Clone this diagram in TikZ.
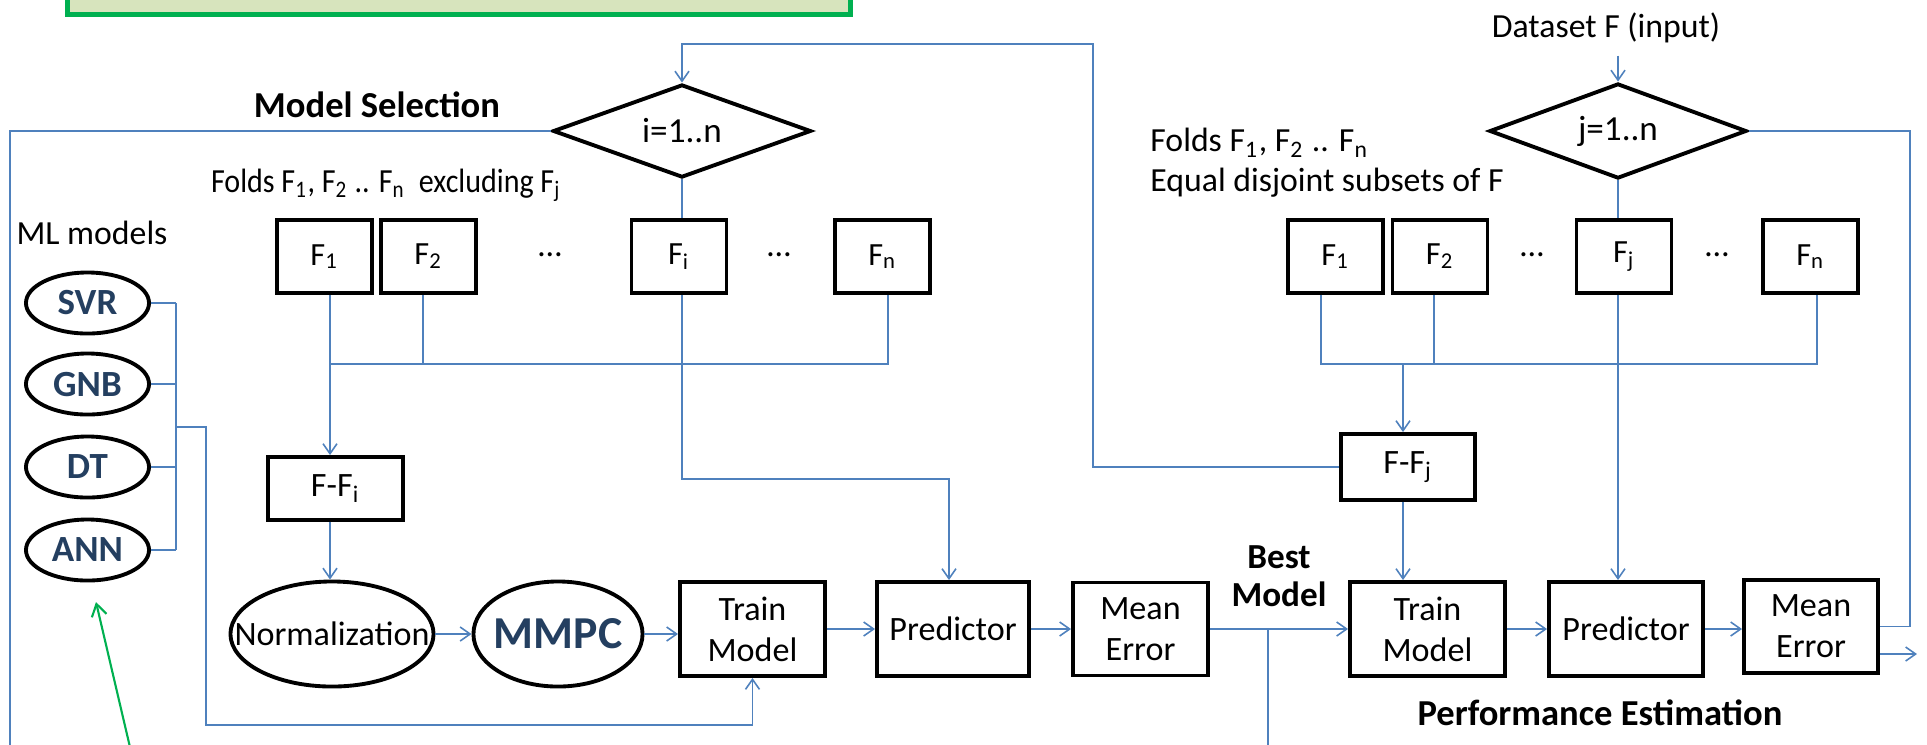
\documentclass[tikz,border=0pt]{standalone}
\usepackage{fontspec}
\usepackage{graphicx}
\setmainfont{Carlito}
\usetikzlibrary{shapes.geometric,arrows.meta,calc}
\definecolor{lblue}{HTML}{4F81BD}
\definecolor{dblue}{HTML}{243F60}
\definecolor{gborder}{HTML}{00B050}
\definecolor{gfill}{HTML}{D7E4BD}
\begin{document}
\begin{tikzpicture}[x=0.01cm,y=-0.01cm,
  box/.style={draw, line width=1.1pt, inner sep=0pt, align=center, font=\fontsize{9.7}{11.7}\selectfont},
  fbox/.style={box, minimum width=0.95cm, minimum height=0.73cm, font=\fontsize{9.2}{11}\selectfont},
  ell/.style={draw, ellipse, line width=1.1pt, inner sep=0pt},
  model/.style={ell, minimum width=1.23cm, minimum height=0.61cm, font=\fontsize{10.5}{12}\selectfont\bfseries, text=dblue},
  dia/.style={draw, diamond, line width=1.1pt, inner sep=0pt, aspect=2.77, font=\fontsize{10}{12}\selectfont},
  conn/.style={draw=lblue, line width=0.45pt},
  arr/.style={conn, -{Straight Barb[length=0.1cm,width=0.14cm]}},
  lbl/.style={font=\fontsize{10.4}{11}\selectfont\bfseries},
  txt/.style={font=\fontsize{9.6}{11.4}\selectfont},
]
\useasboundingbox (0,0) rectangle (1927,744);
\clip (0,0) rectangle (1927,744);

% title box (cut off at top)
\node[draw=gborder, fill=gfill, line width=1.4pt, minimum width=7.83cm, minimum height=0.6cm, inner sep=0pt] (title) at (459,-15.5) {};

% labels
\node[lbl] (ms) at (377,105) {Model Selection};
\node[lbl] (pe) at (1600,713) {Performance Estimation};
\node[lbl, align=center, font=\fontsize{10}{10.8}\selectfont\bfseries] (best) at (1279,576) {Best\\Model};
\node[txt] (ds) at (1606,28) {Dataset F (input)};
\node[txt] (lfolds) at (386,185) {\scalebox{0.89}[1]{Folds F\textsubscript{1}, F\textsubscript{2} .. F\textsubscript{n}~ excluding F\textsubscript{j}}};
\node[txt, align=left, anchor=west] (rfolds) at (1138,163) {Folds F\textsubscript{1}, F\textsubscript{2} .. F\textsubscript{n}\\Equal disjoint subsets of F};
\node[txt] (mlm) at (92,233) {ML models};

% diamonds
\node[dia, minimum width=2.58cm, minimum height=0.93cm] (di) at (682,131) {i=1..n};
\node[dia, minimum width=2.57cm, minimum height=0.95cm] (dj) at (1618,131) {j=1..n};

% left folds
\node[fbox] (lF1) at (324.5,256.5) {F\textsubscript{1}};
\node[fbox] (lF2) at (428.5,256.5) {F\textsubscript{2}};
\node[txt] (ld1) at (550,255) {…};
\node[fbox] (lFi) at (679,256.5) {F\textsubscript{i}};
\node[txt] (ld2) at (779,255) {…};
\node[fbox] (lFn) at (882.5,256.5) {F\textsubscript{n}};

% right folds
\node[fbox] (rF1) at (1335.5,256.5) {F\textsubscript{1}};
\node[fbox] (rF2) at (1440,256.5) {F\textsubscript{2}};
\node[txt] (rd1) at (1532,255) {…};
\node[fbox] (rFj) at (1624,256.5) {F\textsubscript{j}};
\node[txt] (rd2) at (1717,255) {…};
\node[fbox] (rFn) at (1810.5,256.5) {F\textsubscript{n}};

% F-F boxes
\node[box, minimum width=1.35cm, minimum height=0.63cm] (lFFi) at (335.5,488.5) {F-F\textsubscript{i}};
\node[box, minimum width=1.34cm, minimum height=0.66cm] (rFFj) at (1408,467) {F-F\textsubscript{j}};

% ML models
\node[model] (svr) at (87.5,303) {SVR};
\node[model] (gnb) at (87.5,384) {GNB};
\node[model] (dt) at (87.5,467) {DT};
\node[model] (ann) at (87.5,550) {ANN};

% bottom row
\node[ell, minimum width=2.03cm, minimum height=1.05cm, font=\fontsize{9.7}{11.7}\selectfont] (norm) at (332,634) {\makebox[0pt]{Normalization}};
\node[ell, minimum width=1.69cm, minimum height=1.05cm, font=\fontsize{13}{14}\selectfont\bfseries, text=dblue] (mmpc) at (558,634) {\makebox[0pt]{MMPC}};
\node[box, minimum width=1.45cm, minimum height=0.94cm] (lTrain) at (752.5,629) {Train\\Model};
\node[box, minimum width=1.52cm, minimum height=0.94cm] (lPred) at (953,629) {Predictor};
\node[box, minimum width=1.35cm, minimum height=0.93cm] (lME) at (1140.5,629) {Mean\\Error};
\node[box, minimum width=1.55cm, minimum height=0.94cm] (rTrain) at (1427.5,629) {Train\\Model};
\node[box, minimum width=1.54cm, minimum height=0.94cm] (rPred) at (1626,629) {Predictor};
\node[box, minimum width=1.34cm, minimum height=0.93cm] (rME) at (1811,626.5) {Mean\\Error};

% coordinates for free ends / bends
\coordinate (lbusL) at (330,364);
\coordinate (lbusR) at (888,364);
\coordinate (rbusL) at (1321,364);
\coordinate (rbusR) at (1817,364);
\coordinate (rbusM) at (1403,364);
\coordinate (topR) at (1093,44);
\coordinate (fiT) at (949,479);
\coordinate (leftB) at (10,760);
\coordinate (brk) at (176,427);
\coordinate (brkB) at (206,725);
\coordinate (bmB) at (1268,760);
\coordinate (out) at (1917,654);
\coordinate (g1) at (133,760);
\coordinate (g2) at (96,602);

% left folds connectors
\draw[conn] (lF1.south -| lbusL) -- (lbusL) -- (lbusR) -- (lFn.south -| lbusR);
\draw[conn] (lF2.south -| 423,0) -- (423,364);
\draw[arr] (lbusL) -- (lFFi.north -| lbusL);
\draw[arr] (lFFi.south -| lbusL) -- (norm.north -| lbusL);
\draw[conn] (di.south) -- (di.south |- lFi.north);
\draw[arr] (lFi.south -| di.south) |- (fiT) -- (lPred.north -| fiT);

% right folds connectors
\draw[arr] (ds.south -| dj.north) -- (dj.north);
\draw[conn] (rF1.south -| rbusL) -- (rbusL) -- (rbusR) -- (rFn.south -| rbusR);
\draw[conn] (rF2.south -| 1434,0) -- (1434,364);
\draw[conn] (dj.south) -- (dj.south |- rFj.north);
\draw[arr] (rFj.south -| dj.south) -- (rPred.north -| dj.south);
\draw[arr] (rbusM) -- (rFFj.north -| rbusM);
\draw[arr] (rFFj.south -| rbusM) -- (rTrain.north -| rbusM);
\draw[arr] (rFFj.west) -| (topR) -| (di.north);

% loops
\draw[conn] (di.west) -| (leftB);
\draw[conn] (dj.east) -| (rME.east -| 1910,0) -- (rME.east);
\draw[arr] (rME.east |- out) -- (out);

% models bracket
\foreach \m in {svr,gnb,dt,ann} {\draw[conn] (\m.east) -- (\m.east -| brk);}
\draw[conn] (svr.east -| brk) -- (ann.east -| brk);
\draw[arr] (brk) -| (brkB) -| (lTrain.south);

% bottom chain
\draw[arr] (norm.east) -- (norm.east -| mmpc.west);
\draw[arr] (mmpc.east) -- (mmpc.east -| lTrain.west);
\draw[arr] (lTrain.east) -- (lPred.west);
\draw[arr] (lPred.east) -- (lME.west);
\draw[arr] (lME.east) -- (rTrain.west);
\draw[conn] (lME.east -| bmB) -- (bmB);
\draw[arr] (rTrain.east) -- (rPred.west);
\draw[arr] (rPred.east) -- (rPred.east -| rME.west);

% green arrow
\draw[draw=gborder, line width=0.6pt, -{Straight Barb[length=0.12cm,width=0.15cm]}] (g1) -- (g2);
\end{tikzpicture}
\end{document}
